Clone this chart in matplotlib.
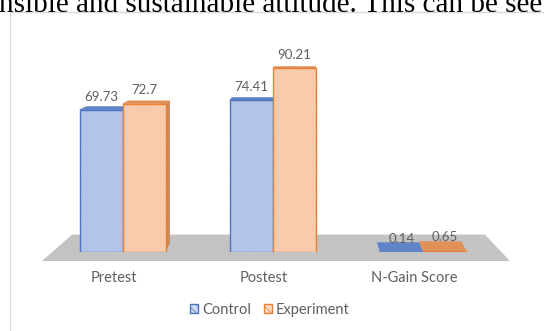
import numpy as np
import matplotlib.pyplot as plt
from matplotlib.patches import Polygon, Patch, Rectangle
from matplotlib.transforms import IdentityTransform, ScaledTranslation

## Data

categories = ['Pretest', 'Postest', 'N-Gain Score']
control = [69.73, 74.41, 0.14]
experiment = [72.7, 90.21, 0.65]
series_names = ['Control', 'Experiment']

## Styles

blue_face, blue_hatch, blue_edge, blue_top = '#cdd9f1', '#8ea7da', '#4a74c2', '#5f84c8'
orng_face, orng_hatch, orng_edge, orng_top = '#fcdcc6', '#f3b387', '#ec7f36', '#e39058'
orng_side = '#c98a5c'
label_col = '#5f5f5f'
hatch_pat = '\\' * 14

plt.rcParams['font.family'] = ['Lato', 'DejaVu Sans']
plt.rcParams['hatch.linewidth'] = 0.5

W, H = 544, 331
fig = plt.figure(figsize=(W / 100, H / 100), dpi=100)

# text line from the page above the chart (cut off at the top)
fig.text(-0.002, 1 - 11.5 / H, 'nsible and sustainable attitude. This can be see',
         family='Liberation Serif', fontsize=21, va='baseline', ha='left', color='black')

# chart frame
fig.patches.append(Rectangle((10, -5), 600, H - 12 + 5, transform=IdentityTransform(),
                             fill=False, edgecolor='#d9d9d9', linewidth=1))

ax = fig.add_axes([40 / W, (H - 252) / H, 470 / W, 204 / H])
ax.set_xlim(-0.553, 2.58)
ax.set_ylim(0, 100)
ax.patch.set_alpha(0)
for s in ax.spines.values():
    s.set_visible(False)
ax.set_yticks([])

x = np.arange(len(categories))
w = 0.287

# perspective helper (display pixels)
vp = np.array([297.0, H - 37.0])


def back(pts, kx, ky):
    pts = np.asarray(pts, float)
    out = pts.copy()
    out[:, 0] += kx * (vp[0] - pts[:, 0])
    out[:, 1] += ky * (vp[1] - pts[:, 1])
    return out


# floor
front = np.array([[42, H - 261], [510, H - 261]], float)
bk = back(front, 0.118, 0.118)
floor = Polygon([front[0], front[1], bk[1], bk[0]], closed=True, transform=IdentityTransform(),
                facecolor='#c3c3c3', edgecolor='none', zorder=0)
ax.add_patch(floor)
floor.set_clip_on(False)

kx, ky = 0.03, 0.042


def bar3d(xc, val, face, hatch, edge, top, side, z):
    ax.bar(xc, val, w, color=face, hatch=hatch_pat, edgecolor=hatch, linewidth=0, zorder=z + 1)
    ax.bar(xc, val, w, fill=False, edgecolor=edge, linewidth=1.0, zorder=z + 1.1)
    x0, y0 = ax.transData.transform((xc - w / 2, 0))
    x1, y1 = ax.transData.transform((xc + w / 2, val))
    ft = np.array([[x0, y1], [x1, y1]])
    bt = back(ft, kx, ky)
    tp = Polygon([ft[0], ft[1], bt[1], bt[0]], transform=IdentityTransform(), facecolor=top,
                 edgecolor=top, linewidth=0.5, zorder=z, clip_on=False)
    ax.add_patch(tp)
    if bt[1][0] > x1:
        fs = np.array([[x1, y0], [x1, y1]])
        bs = back(fs, kx, ky)
        sd = Polygon([fs[0], fs[1], bs[1], bs[0]], transform=IdentityTransform(), facecolor=side,
                     edgecolor='none', zorder=z, clip_on=False)
        ax.add_patch(sd)
    ax.annotate(f'{val:g}', (xc, val), xytext=(0, 9.5), textcoords='offset points',
                ha='center', va='center', fontsize=9.5, color=label_col, zorder=10)


for i in range(len(categories)):
    bar3d(x[i] - w / 2, control[i], blue_face, blue_hatch, blue_edge, blue_top, blue_top, 2)
    bar3d(x[i] + w / 2, experiment[i], orng_face, orng_hatch, orng_edge, orng_top, orng_side, 4)

ax.set_xticks(x)
ax.set_xticklabels(categories, fontsize=10.5, color=label_col)
ax.tick_params(axis='x', length=0, pad=14)
for lab in ax.get_xticklabels():
    lab.set_transform(lab.get_transform() + ScaledTranslation(-0.09, 0, fig.dpi_scale_trans))

handles = [Patch(facecolor=blue_face, edgecolor=blue_edge, hatch='\\\\\\\\', linewidth=1),
           Patch(facecolor=orng_face, edgecolor=orng_edge, hatch='\\\\\\\\', linewidth=1)]
fig.legend(handles, series_names, loc='center', bbox_to_anchor=(270 / W, (H - 310) / H),
           ncol=2, frameon=False, fontsize=10.5, handlelength=0.55, handleheight=0.55,
           handletextpad=0.25, columnspacing=0.9, labelcolor=label_col)

fig.savefig('out.png', dpi=100)
